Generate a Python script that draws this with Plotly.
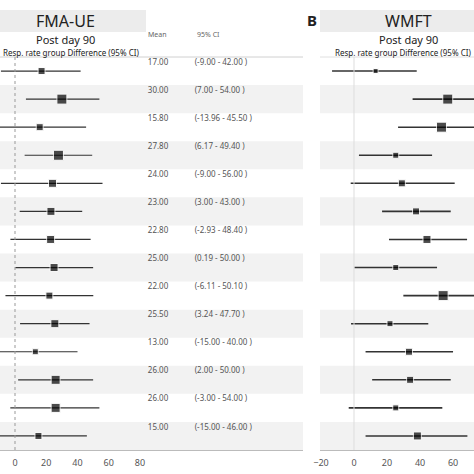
import plotly.graph_objects as go

# FMA-UE (panel A): response rate group difference, post day 90
fma_mean = [17.00, 30.00, 15.80, 27.80, 24.00, 23.00, 22.80, 25.00, 22.00, 25.50, 13.00, 26.00, 26.00, 15.00]
fma_low = [-9.00, 7.00, -13.96, 6.17, -9.00, 3.00, -2.93, 0.19, -6.11, 3.24, -15.00, 2.00, -3.00, -15.00]
fma_high = [42.00, 54.00, 45.50, 49.40, 56.00, 43.00, 48.40, 50.00, 50.10, 47.70, 40.00, 50.00, 54.00, 46.00]
fma_weight = [7, 10, 7, 10, 8, 8, 8, 8, 7, 8, 6, 9, 9, 7]

# WMFT (panel B)
wmft_mean = [13.1, 56.8, 53.0, 25.3, 29.0, 37.6, 44.2, 25.3, 54.0, 21.8, 33.3, 34.0, 25.3, 38.4]
wmft_low = [-13.3, 35.5, 26.7, 3.0, -2.0, 17.0, 21.2, 0.2, 29.9, -1.8, 7.0, 11.0, -3.2, 7.0]
wmft_high = [38.0, 80.0, 80.0, 47.3, 61.0, 58.6, 68.5, 50.3, 80.0, 45.0, 60.0, 58.6, 53.5, 68.7]
wmft_weight = [5, 10, 10, 6, 7, 7, 8, 6, 10, 6, 7, 7, 6, 8]

fma_ticks = [0, 20, 40, 60, 80]
wmft_ticks = [-20, 0, 20, 40, 60]

rows = list(range(1, len(fma_mean) + 1))
FONT = "Noto Sans"
W = 474.0


def px(x):
    return x / W


def py(y):
    return 1 - y / W


fig = go.Figure()

fig.add_trace(go.Scatter(
    x=fma_mean, y=rows, mode="markers", xaxis="x", yaxis="y",
    marker=dict(symbol="square", color="black", size=fma_weight),
    error_x=dict(type="data", symmetric=False,
                 array=[h - m for h, m in zip(fma_high, fma_mean)],
                 arrayminus=[m - l for m, l in zip(fma_mean, fma_low)],
                 color="#333333", thickness=1.2, width=0),
    showlegend=False, hoverinfo="skip",
))

# mean and CI text columns, sitting in the upper part of each row
fig.add_trace(go.Scatter(
    x=[85] * len(rows), y=[r - 0.3 for r in rows], mode="text", xaxis="x", yaxis="y",
    text=["%.2f" % m for m in fma_mean], textposition="middle right",
    textfont=dict(family=FONT, size=8, color="#555555"),
    showlegend=False, hoverinfo="skip",
))
fig.add_trace(go.Scatter(
    x=[115] * len(rows), y=[r - 0.3 for r in rows], mode="text", xaxis="x", yaxis="y",
    text=["(%.2f - %.2f )" % (l, h) for l, h in zip(fma_low, fma_high)],
    textposition="middle right",
    textfont=dict(family=FONT, size=8, color="#555555"),
    showlegend=False, hoverinfo="skip",
))

fig.add_trace(go.Scatter(
    x=wmft_mean, y=rows, mode="markers", xaxis="x2", yaxis="y",
    marker=dict(symbol="square", color="black", size=wmft_weight),
    error_x=dict(type="data", symmetric=False,
                 array=[h - m for h, m in zip(wmft_high, wmft_mean)],
                 arrayminus=[m - l for m, l in zip(wmft_mean, wmft_low)],
                 color="#333333", thickness=1.6, width=0),
    showlegend=False, hoverinfo="skip",
))

shapes = []
for r in rows:
    if r % 2 == 0:
        for x0, x1 in [(0, px(303)), (px(320), 1)]:
            shapes.append(dict(type="rect", xref="paper", yref="y", x0=x0, x1=x1,
                               y0=r - 0.5, y1=r + 0.5, fillcolor="#f2f2f2",
                               line=dict(width=0), layer="below"))

# header boxes
shapes.append(dict(type="rect", xref="paper", yref="paper", x0=0, x1=px(146),
                   y0=py(32), y1=py(10), fillcolor="#ececec", line=dict(width=0)))
shapes.append(dict(type="rect", xref="paper", yref="paper", x0=px(320), x1=1,
                   y0=py(32), y1=py(10), fillcolor="#ececec", line=dict(width=0)))
# top rules
shapes.append(dict(type="line", xref="paper", yref="paper", x0=0, x1=px(303),
                   y0=py(57), y1=py(57), line=dict(color="#d0d0d0", width=1)))
shapes.append(dict(type="line", xref="paper", yref="paper", x0=px(320), x1=1,
                   y0=py(57), y1=py(57), line=dict(color="#e0e0e0", width=1)))
# zero lines
shapes.append(dict(type="line", xref="x", yref="paper", x0=0, x1=0,
                   y0=py(450), y1=py(57), line=dict(color="#999999", width=1, dash="dot")))
shapes.append(dict(type="line", xref="x2", yref="paper", x0=0, x1=0,
                   y0=py(450), y1=py(57), line=dict(color="#dddddd", width=1)))

annotations = [
    dict(text="FMA-UE", x=px(65), y=py(21), font=dict(size=16, color="#222222")),
    dict(text="Post day 90", x=px(65), y=py(40), font=dict(size=11, color="#222222")),
    dict(text="Resp. rate group Difference (95% CI)", x=px(1), y=py(52), xanchor="left",
         font=dict(size=8, color="#222222")),
    dict(text="Mean", x=px(146), y=py(35), xanchor="left", font=dict(size=7, color="#666666")),
    dict(text="95% CI", x=px(195), y=py(35), xanchor="left", font=dict(size=7, color="#666666")),
    dict(text="<b>B</b>", x=px(312), y=py(20), font=dict(size=15, color="#222222")),
    dict(text="WMFT", x=px(408), y=py(21), font=dict(size=16, color="#222222")),
    dict(text="Post day 90", x=px(408), y=py(40), font=dict(size=11, color="#222222")),
    dict(text="Resp. rate group Difference (95% CI)", x=px(473), y=py(52), xanchor="right",
         font=dict(size=8, color="#222222")),
]
for a in annotations:
    a.update(xref="paper", yref="paper", showarrow=False, yanchor="middle")
    a.setdefault("xanchor", "center")
    a["font"]["family"] = FONT

axis_common = dict(showgrid=False, zeroline=False, showline=True, linecolor="#bbbbbb",
                   linewidth=1, ticks="", ticklabelstandoff=4, automargin=False,
                   tickfont=dict(family=FONT, size=9, color="#555555"), anchor="y")

fig.update_layout(
    width=474, height=474,
    margin=dict(l=0, r=0, t=0, b=0, autoexpand=False),
    paper_bgcolor="white", plot_bgcolor="rgba(0,0,0,0)",
    xaxis=dict(domain=[0, px(303)], range=[-9.6, 184.3], tickvals=fma_ticks, **axis_common),
    xaxis2=dict(domain=[px(320), 1], range=[-20.6, 72.7], tickvals=wmft_ticks, **axis_common),
    yaxis=dict(domain=[py(450), py(57)], range=[14.5, 0.5], visible=False, automargin=False),
    shapes=shapes,
    annotations=annotations,
)

# page body margin would push the fixed-size figure off the window
fig.write_html("out.html", config={"displayModeBar": False},
               post_script="document.body.style.margin='0';document.body.style.overflow='hidden';")
